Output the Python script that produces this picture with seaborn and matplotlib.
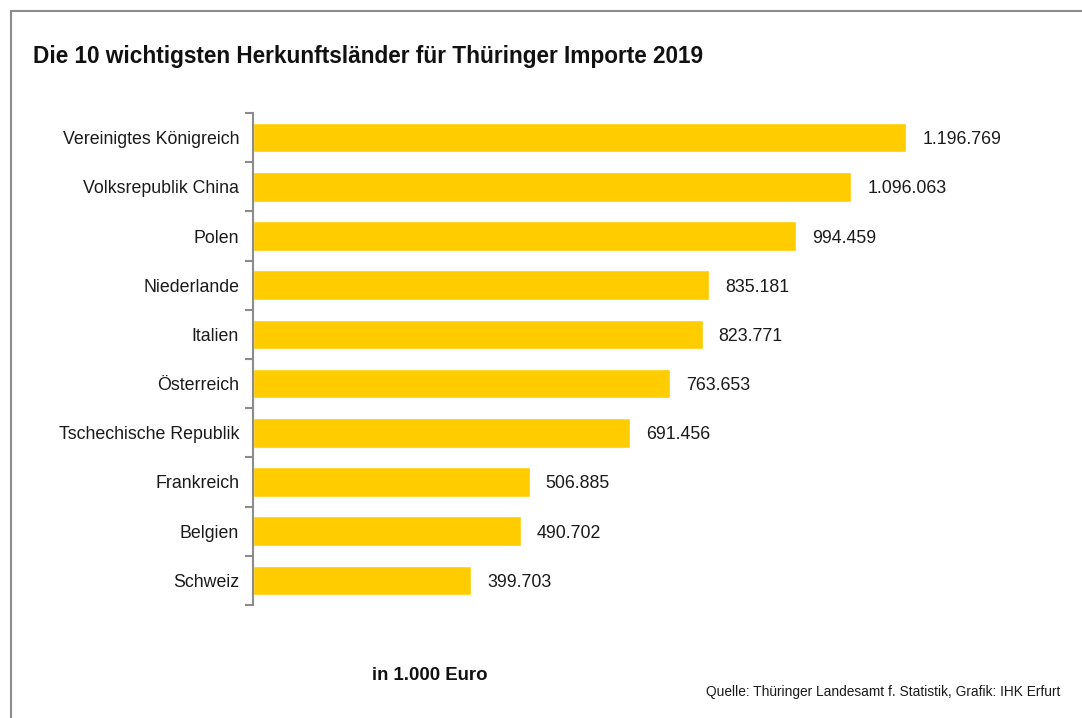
import numpy as np
import pandas as pd
import matplotlib.pyplot as plt
import seaborn as sns
from matplotlib.patches import Rectangle

countries = ['Vereinigtes Königreich', 'Volksrepublik China', 'Polen', 'Niederlande',
             'Italien', 'Österreich', 'Tschechische Republik', 'Frankreich',
             'Belgien', 'Schweiz']
imports = [1196769, 1096063, 994459, 835181, 823771, 763653, 691456, 506885,
           490702, 399703]

df = pd.DataFrame({'land': countries, 'wert': imports})

sns.set_style('white')
plt.rcParams['font.family'] = ['Liberation Sans', 'DejaVu Sans']

fig = plt.figure(figsize=(10.82, 7.18), dpi=100)
ax = fig.add_axes([0.2338, 0.1574, 0.7062, 0.6852])

sns.barplot(data=df, x='wert', y='land', color='#FFCC00', saturation=1,
            width=0.6, ax=ax)

ax.set_xlim(0, 1400000)
ax.set_ylim(9.5, -0.5)
ax.set_xlabel('')
ax.set_ylabel('')
ax.set_xticks([])

for s in ['top', 'right', 'bottom']:
    ax.spines[s].set_visible(False)
ax.spines['left'].set_color('#8c8c8c')
ax.spines['left'].set_linewidth(1.5)

ax.set_yticks(np.arange(len(countries)))
ax.set_yticklabels(countries, fontsize=12.8, color='#1a1a1a')
ax.tick_params(axis='y', which='major', length=0, pad=10)
ax.set_yticks(np.arange(-0.5, len(countries)), minor=True)
ax.tick_params(axis='y', which='minor', length=6, width=1.5, color='#8c8c8c',
               direction='out', left=True)

for i, v in enumerate(imports):
    lab = f'{v:,}'.replace(',', '.')
    ax.annotate(lab, (v, i), xytext=(16, -2), textcoords='offset pixels',
                va='center', ha='left', fontsize=12.8, color='#1a1a1a')

fig.text(33 / 1082, 1 - 57 / 718, 'Die 10 wichtigsten Herkunftsländer für Thüringer Importe 2019',
         fontsize=16.3, fontweight='bold', va='center', ha='left', color='#111111')
fig.text(430 / 1082, 1 - 676 / 718, 'in 1.000 Euro', fontsize=13.4, fontweight='bold',
         va='center', ha='center', color='#111111')
fig.text(1060 / 1082, 1 - 692 / 718,
         'Quelle: Thüringer Landesamt f. Statistik, Grafik: IHK Erfurt',
         fontsize=9.9, va='center', ha='right', color='#1a1a1a')

fig.patches.append(Rectangle((11 / 1082, -0.1), 1.2, 1 - 11 / 718 + 0.1,
                             transform=fig.transFigure, fill=False,
                             edgecolor='#8c8c8c', linewidth=1.5))

fig.savefig('out.png', dpi=100)
